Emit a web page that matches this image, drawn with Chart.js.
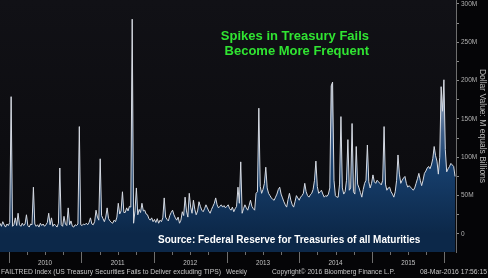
<!DOCTYPE html>
<html>
<head>
<meta charset="utf-8">
<script src="https://cdn.jsdelivr.net/npm/chart.js@4.4.1/dist/chart.umd.min.js"></script>
<style>
  html, body { margin: 0; padding: 0; background: #000; }
  #failsCanvas { display: block; }
</style>
</head>
<body>
<canvas id="failsCanvas" width="488" height="278"></canvas>
<script>
// weekly fails to deliver, $M (Nov 2009 - Feb 2016)
const failValues = [
    14, 10, 16, 12, 9, 13, 11, 15, 179, 10,
    12, 21, 11, 27, 12, 10, 14, 11, 13, 25,
    11, 9, 13, 12, 61, 13, 10, 12, 9, 14,
    11, 13, 10, 12, 15, 27, 12, 21, 10, 13,
    11, 9, 14, 86, 12, 10, 23, 13, 11, 34,
    12, 17, 10, 9, 12, 11, 13, 140, 12, 11,
    13, 12, 14, 12, 15, 21, 13, 12, 16, 31,
    22, 18, 98, 24, 20, 16, 22, 34, 20, 17,
    15, 14, 18, 16, 22, 40, 26, 30, 55, 28,
    28, 34, 30, 36, 35, 280, 14, 30, 60, 25,
    32, 28, 40, 30, 31, 26, 25, 20, 18, 21,
    16, 19, 15, 20, 14, 18, 16, 21, 47, 22,
    19, 17, 24, 28, 31, 25, 21, 18, 22, 14,
    18, 29, 24, 48, 30, 22, 53, 35, 27, 44,
    32, 25, 30, 42, 36, 31, 29, 33, 38, 34,
    30, 27, 32, 36, 40, 47, 38, 34, 36, 38,
    35, 37, 34, 36, 38, 33, 31, 35, 29, 33,
    36, 61, 40, 94, 27, 33, 38, 34, 31, 37,
    44, 36, 33, 31, 53, 55, 164, 62, 53, 58,
    66, 87, 60, 53, 50, 47, 45, 44, 48, 52,
    58, 61, 52, 47, 42, 38, 35, 45, 53, 44,
    38, 35, 42, 50, 47, 44, 48, 50, 53, 66,
    55, 50, 48, 51, 53, 58, 70, 95, 62, 53,
    55, 57, 52, 48, 50, 49, 52, 60, 193, 198,
    70, 50, 48, 48, 65, 153, 60, 52, 55, 70,
    123, 57, 60, 144, 55, 52, 114, 65, 60, 54,
    48, 58, 66, 70, 116, 68, 60, 66, 77, 68,
    66, 70, 68, 66, 64, 70, 140, 65, 57, 60,
    61, 55, 52, 48, 55, 70, 103, 78, 66, 70,
    73, 75, 66, 61, 63, 61, 59, 57, 60, 66,
    72, 79, 70, 63, 70, 79, 82, 86, 88, 85,
    90, 98, 114, 102, 95, 78, 100, 192, 160, 201,
    110, 81, 85, 88, 92, 90, 88, 75
]

// first week as a decimal year, then one point per week
const firstWeek = 2009.879
const weekStep = 7 / 365.25
const weekDates = failValues.map((v, i) => firstWeek + i * weekStep)

const yearLabels = ['2010', '2011', '2012', '2013', '2014', '2015']
const yearBounds = [2010, 2011, 2012, 2013, 2014, 2015, 2016]
const yTickValues = [0, 50, 100, 150, 200, 250, 300]
const yTickLabels = ['0', '50M', '100M', '150M', '200M', '250M', '300M']
const yMinorTicks = [25, 75, 125, 175, 225, 275]

const titleLines = ['Spikes in Treasury Fails', 'Become More Frequent']
const sourceText = 'Source: Federal Reserve for Treasuries of all Maturities'
const axisTitle = 'Dollar Value: M equals Billions'

const chartBackground = {
    id: 'chartBackground',
    beforeDraw(chart) {
        const { ctx, chartArea: area, width, height } = chart
        ctx.save()
        ctx.fillStyle = '#050507'
        ctx.fillRect(0, 0, width, height)
        const g = ctx.createLinearGradient(0, area.top, 0, area.bottom)
        g.addColorStop(0, '#111116')
        g.addColorStop(1, '#0a0a0d')
        ctx.fillStyle = g
        ctx.fillRect(area.left, area.top, area.right - area.left, area.bottom - area.top)
        ctx.restore()
    }
}

const chartTexts = {
    id: 'chartTexts',
    afterDatasetsDraw(chart) {
        const { ctx, chartArea: area, scales: { x } } = chart
        ctx.save()

        // year boundaries + quarter ticks under the plot
        ctx.strokeStyle = '#6e6e6e'
        ctx.lineWidth = 1
        yearBounds.forEach(year => {
            const px = Math.round(x.getPixelForValue(year)) + 0.5
            ctx.beginPath()
            ctx.moveTo(px, area.bottom)
            ctx.lineTo(px, area.bottom + 11)
            ctx.stroke()
            if (year === 2016) return
            for (let q = 1; q < 4; q++) {
                const qx = Math.round(x.getPixelForValue(year + q / 4)) + 0.5
                ctx.beginPath()
                ctx.moveTo(qx, area.bottom)
                ctx.lineTo(qx, area.bottom + 3)
                ctx.stroke()
            }
        })
        ctx.fillStyle = '#c4c4c4'
        ctx.font = '7px "Liberation Sans"'
        ctx.textAlign = 'center'
        ctx.textBaseline = 'middle'
        yearLabels.forEach((label, i) => {
            ctx.fillText(label, x.getPixelForValue(yearBounds[i] + 0.5), area.bottom + 11.5, 14)
        })

        // footer
        ctx.font = '8px "Liberation Sans"'
        ctx.textAlign = 'left'
        ctx.fillStyle = '#c8c8c8'
        ctx.fillText('FAILTRED Index (US Treasury Securities Fails to Deliver excluding TIPS)', 1, 272, 220)
        ctx.fillText('Weekly', 226, 272, 21)
        ctx.fillText('Copyright\u00a9 2016 Bloomberg Finance L.P.', 272, 272, 123)
        ctx.textAlign = 'right'
        ctx.fillText('08-Mar-2016 17:56:15', 487, 272, 67)

        // green headline
        ctx.fillStyle = '#30e432'
        ctx.font = 'bold 13px "Liberation Sans"'
        ctx.textAlign = 'right'
        ctx.fillText(titleLines[0], 369, 36, 162)
        ctx.fillText(titleLines[1], 369, 51, 158)

        // source note
        ctx.fillStyle = '#ffffff'
        ctx.font = 'bold 10px "Liberation Sans"'
        ctx.textAlign = 'left'
        ctx.fillText(sourceText, 158, 240, 265)

        // right axis title, reading downwards
        ctx.translate(482, 126)
        ctx.rotate(Math.PI / 2)
        ctx.textAlign = 'center'
        ctx.fillStyle = '#b4b4b4'
        ctx.font = '8.5px "Liberation Sans"'
        ctx.fillText(axisTitle, 0, 0, 118)

        ctx.restore()
    }
}

const ctxFails = document.querySelector('#failsCanvas')

const config = {
    type: 'line',
    data: {
        datasets: [{
            data: failValues.map((v, i) => ({ x: weekDates[i], y: v })),
            borderColor: '#d6dae2',
            borderWidth: 1,
            pointRadius: 0,
            tension: 0,
            fill: 'start',
            backgroundColor(context) {
                const { chart } = context
                const { ctx, chartArea } = chart
                if (!chartArea) return '#0d2a50'
                const y = chart.scales.y
                const g = ctx.createLinearGradient(0, y.getPixelForValue(220), 0, y.getPixelForValue(0))
                g.addColorStop(0, '#c8cfdb')
                g.addColorStop(0.18, '#98a7bd')
                g.addColorStop(0.4, '#3d5d87')
                g.addColorStop(0.6, '#173f6d')
                g.addColorStop(1, '#0c2849')
                return g
            }
        }]
    },
    options: {
        responsive: false,
        animation: false,
        layout: {
            padding: { top: 0, left: 0, right: 0, bottom: 26 }
        },
        plugins: {
            legend: { display: false },
            tooltip: { enabled: false }
        },
        scales: {
            x: {
                type: 'linear',
                min: 2009.879,
                max: 2016.159,
                display: false
            },
            y: {
                position: 'right',
                min: -23.5,
                max: 305,
                afterBuildTicks(scale) {
                    scale.ticks = yTickValues.concat(yMinorTicks).sort((a, b) => a - b).map(v => ({ value: v }))
                },
                afterFit(scale) {
                    scale.width = 32
                    scale.paddingTop = 0
                    scale.paddingBottom = 0
                },
                grid: {
                    drawOnChartArea: false,
                    tickLength: 3,
                    color: '#8a8a8a'
                },
                border: {
                    color: '#6e6e6e'
                },
                ticks: {
                    autoSkip: false,
                    padding: 2,
                    color: '#b0b0b0',
                    font: { size: 6.5, family: 'Liberation Sans' },
                    callback(value) {
                        const i = yTickValues.indexOf(value)
                        return i === -1 ? '' : yTickLabels[i]
                    }
                }
            }
        }
    },
    plugins: [chartBackground, chartTexts]
}

const failsChart = new Chart(ctxFails, config)
</script>
</body>
</html>
